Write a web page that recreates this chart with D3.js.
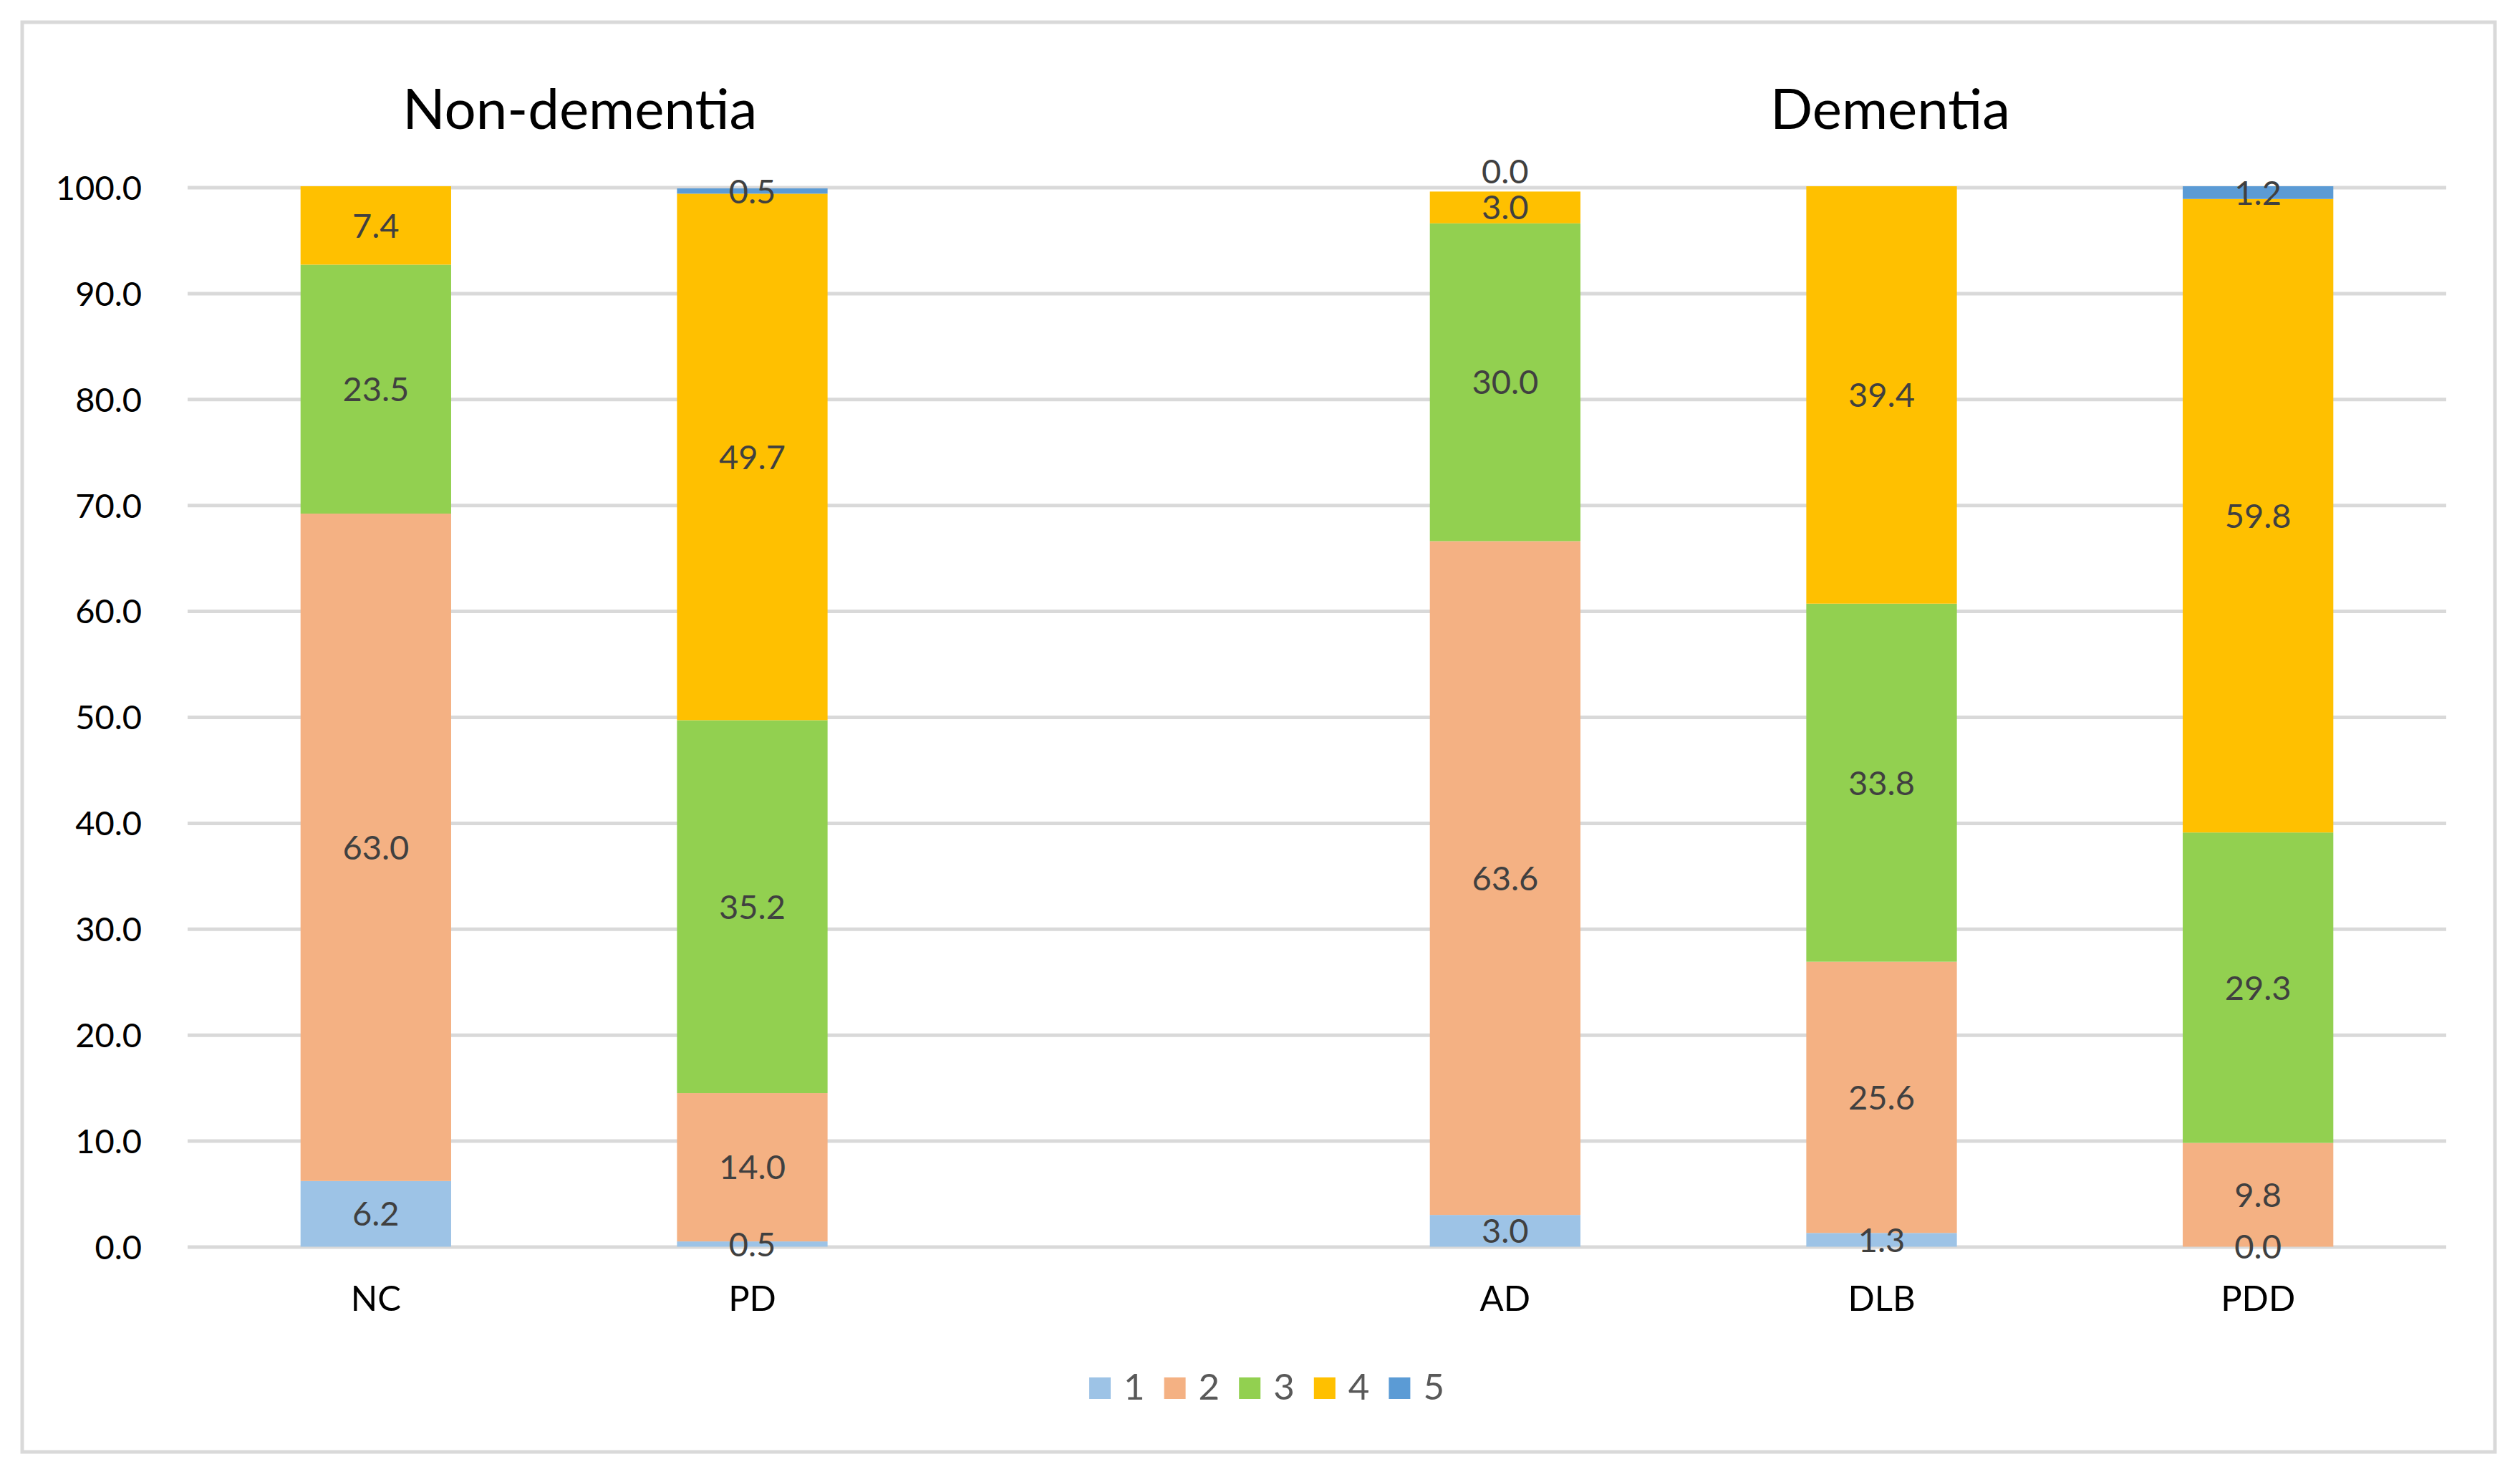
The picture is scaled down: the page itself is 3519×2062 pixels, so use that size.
<!DOCTYPE html>
<html>
<head>
<meta charset="utf-8">
<script src="https://cdn.jsdelivr.net/npm/d3@7"></script>
<style>
  html, body { margin: 0; padding: 0; background: #fff; }
  svg { display: block; }
</style>
</head>
<body>
<svg id="chart" width="3519" height="2062"></svg>
<script>
// ---- data ----
const categories = ["NC", "PD", "", "AD", "DLB", "PDD"];
const seriesNames = ["1", "2", "3", "4", "5"];
const series1 = [6.2, 0.5, null, 3.0, 1.3, 0.0];
const series2 = [63.0, 14.0, null, 63.6, 25.6, 9.8];
const series3 = [23.5, 35.2, null, 30.0, 33.8, 29.3];
const series4 = [7.4, 49.7, null, 3.0, 39.4, 59.8];
const series5 = [null, 0.5, null, 0.0, null, 1.2];
const seriesColors = ["#9DC3E6", "#F4B183", "#92D050", "#FFC000", "#5B9BD5"];
const yTickValues = [0, 10, 20, 30, 40, 50, 60, 70, 80, 90, 100];
const groupTitles = ["Non-dementia", "Dementia"];
const groupMembers = [["NC", "PD"], ["AD", "DLB", "PDD"]];

// ---- layout ----
const W = 3519, H = 2062;
const plotLeft = 262, plotRight = 3416, plotTop = 261.5, plotBottom = 1740.5;
const FONT = "Lato, 'Open Sans', sans-serif";

const svg = d3.select("#chart");

svg.append("rect")
  .attr("x", 31).attr("y", 31)
  .attr("width", 3453).attr("height", 1996)
  .attr("fill", "#fff").attr("stroke", "#d9d9d9").attr("stroke-width", 5);

const allSeries = [series1, series2, series3, series4, series5];
const table = categories.map((c, i) => {
  const row = { cat: c };
  seriesNames.forEach((s, k) => { row[s] = allSeries[k][i]; });
  return row;
});

const x = d3.scaleBand().domain(categories).range([plotLeft, plotRight])
  .paddingInner(0.6).paddingOuter(0.3);
const y = d3.scaleLinear().domain([0, 100]).range([plotBottom, plotTop]);
const color = d3.scaleOrdinal().domain(seriesNames).range(seriesColors);

// gridlines + y labels
const yAxis = d3.axisLeft(y)
  .tickValues(yTickValues)
  .tickSize(-(plotRight - plotLeft))
  .tickPadding(64)
  .tickFormat(d3.format(".1f"));
const gy = svg.append("g").attr("transform", `translate(${plotLeft},0)`).call(yAxis);
gy.select(".domain").remove();
gy.selectAll(".tick line").attr("stroke", "#d9d9d9").attr("stroke-width", 5);
gy.selectAll(".tick text")
  .attr("fill", "#000").attr("font-family", FONT).attr("font-size", 47)
  .attr("dy", "0.358em");

// stacked bars
const stack = d3.stack().keys(seriesNames).value((d, k) => d[k] == null ? 0 : d[k]);
const stacked = stack(table);

const layers = svg.append("g").selectAll("g")
  .data(stacked).join("g")
  .attr("fill", d => color(d.key));

layers.selectAll("rect")
  .data(d => d.filter(p => p.data.cat !== "" && p.data[d.key] != null).map(p => ({ p, key: d.key })))
  .join("rect")
  .attr("x", d => x(d.p.data.cat))
  .attr("width", x.bandwidth())
  .attr("y", d => y(d.p[1]))
  .attr("height", d => y(d.p[0]) - y(d.p[1]));

// data labels (with simple upward collision avoidance per bar)
const labelSize = 47;
const minGap = 50;
const labels = [];
categories.forEach((c, i) => {
  if (c === "") return;
  let prevY = null;
  stacked.forEach(layer => {
    const v = layer[i].data[layer.key];
    if (v == null) return;
    let ly = y((layer[i][0] + layer[i][1]) / 2);
    if (prevY !== null && prevY - ly < minGap) ly = prevY - minGap;
    prevY = ly;
    labels.push({ cat: c, y: ly, text: d3.format(".1f")(v) });
  });
});
svg.append("g").selectAll("text").data(labels).join("text")
  .attr("x", d => x(d.cat) + x.bandwidth() / 2)
  .attr("y", d => d.y)
  .attr("dy", "0.358em")
  .attr("text-anchor", "middle")
  .attr("font-family", FONT).attr("font-size", labelSize)
  .attr("fill", "#404040")
  .text(d => d.text);

// category labels
const xAxis = d3.axisBottom(x).tickSize(0).tickPadding(0);
const gx = svg.append("g").attr("transform", `translate(0,${plotBottom})`).call(xAxis);
gx.select(".domain").remove();
gx.selectAll(".tick text")
  .attr("y", 1830 - plotBottom).attr("dy", 0)
  .attr("fill", "#000").attr("font-family", FONT).attr("font-size", 49);

// group titles
svg.append("g").selectAll("text").data(groupTitles).join("text")
  .attr("x", (d, i) => d3.mean(groupMembers[i], c => x(c) + x.bandwidth() / 2) + (i === 0 ? 22 : 12))
  .attr("y", 180)
  .attr("text-anchor", "middle")
  .attr("font-family", FONT).attr("font-size", 78)
  .attr("fill", "#000")
  .text(d => d);

// legend
const legend = svg.append("g");
const items = legend.selectAll("g").data(seriesNames).join("g");
items.append("rect")
  .attr("width", 30).attr("height", 30).attr("y", 1923)
  .attr("fill", d => color(d));
items.append("text")
  .attr("y", 1954)
  .attr("font-family", FONT).attr("font-size", 51)
  .attr("fill", "#595959")
  .text(d => d);
let cx = 0;
const pos = [];
items.each(function(d) {
  const tw = d3.select(this).select("text").node().getComputedTextLength();
  pos.push(cx);
  cx += 30 + 18 + tw + 27;
});
const totalW = cx - 27;
const startX = 1769 - totalW / 2;
items.each(function(d, i) {
  const g = d3.select(this);
  g.select("rect").attr("x", startX + pos[i]);
  g.select("text").attr("x", startX + pos[i] + 48);
});
</script>
</body>
</html>
